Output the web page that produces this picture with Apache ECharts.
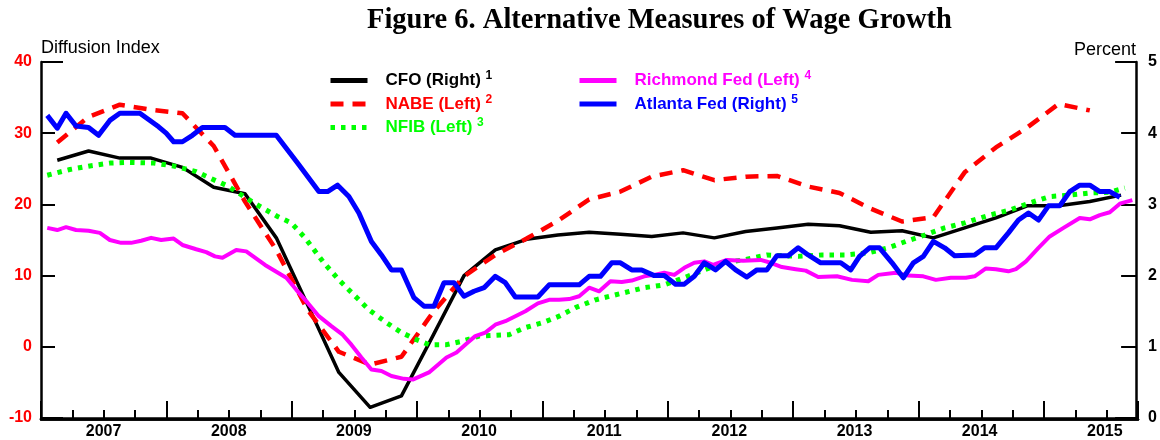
<!DOCTYPE html>
<html>
<head>
<meta charset="utf-8">
<script src="https://cdn.jsdelivr.net/npm/echarts@6/dist/echarts.min.js"></script>
<style>
  html, body { margin: 0; padding: 0; background: #fff; }
  #chart { width: 1160px; height: 440px; }
</style>
</head>
<body>
<div id="chart"></div>
<script>
// CFO survey, quarterly, percent (right axis)
const cfoDates = [2007.13, 2007.38, 2007.63, 2007.88, 2008.13, 2008.38, 2008.63, 2008.88, 2009.13, 2009.38, 2009.63, 2009.88,
  2010.13, 2010.38, 2010.63, 2010.88, 2011.13, 2011.38, 2011.63, 2011.88, 2012.13, 2012.38, 2012.63, 2012.88,
  2013.13, 2013.38, 2013.63, 2013.88, 2014.13, 2014.38, 2014.63, 2014.88, 2015.13, 2015.38, 2015.63]
const cfoValues = [3.62, 3.75, 3.65, 3.65, 3.52, 3.24, 3.15, 2.53, 1.59, 0.64, 0.15, 0.31,
  1.15, 2.00, 2.36, 2.51, 2.57, 2.61, 2.58, 2.55, 2.60, 2.53, 2.62, 2.67,
  2.72, 2.70, 2.61, 2.63, 2.53, 2.67, 2.81, 2.98, 2.98, 3.04, 3.13]

// NABE, diffusion index (left axis)
const nabeDates = [2007.13, 2007.38, 2007.63, 2007.88, 2008.13, 2008.38, 2008.63, 2008.88, 2009.13, 2009.38, 2009.63, 2009.88,
  2010.13, 2010.38, 2010.63, 2010.88, 2011.13, 2011.38, 2011.63, 2011.88, 2012.13, 2012.38, 2012.63, 2012.88,
  2013.13, 2013.38, 2013.63, 2013.88, 2014.13, 2014.38, 2014.63, 2014.88, 2015.13, 2015.38]
const nabeValues = [28.7, 32.3, 34.0, 33.3, 32.8, 28.2, 20.4, 13.6, 5.2, -0.7, -2.5, -1.4,
  4.8, 9.9, 12.9, 15.2, 17.7, 20.7, 21.8, 23.9, 24.8, 23.4, 23.9, 24.0,
  22.5, 21.6, 19.4, 17.6, 18.2, 24.5, 28.0, 30.8, 34.1, 33.2]

// NFIB, diffusion index (left axis)
const nfibDates = [2007.05, 2007.23, 2007.39, 2007.55, 2007.71, 2007.90, 2008.06, 2008.24, 2008.40, 2008.49, 2008.71, 2008.89,
  2009.00, 2009.11, 2009.26, 2009.38, 2009.50, 2009.62, 2009.76, 2009.88, 2010.00, 2010.10, 2010.24, 2010.37, 2010.50,
  2010.74, 2010.87, 2011.01, 2011.14, 2011.27, 2011.43, 2011.66, 2011.82, 2011.98, 2012.14, 2012.30, 2012.45, 2012.61,
  2012.80, 2013.05, 2013.24, 2013.43, 2013.61, 2013.77, 2013.91, 2014.03, 2014.22, 2014.38, 2014.45, 2014.58, 2014.74,
  2014.90, 2015.06, 2015.22, 2015.38, 2015.54, 2015.66]
const nfibValues = [24.1, 24.9, 25.4, 25.8, 25.9, 25.8, 25.4, 24.6, 23.3, 22.6, 20.1, 18.3,
  17.4, 15.3, 11.8, 9.4, 7.3, 5.2, 3.4, 2.0, 1.0, 0.3, 0.3, 0.8, 1.5,
  1.7, 2.7, 3.4, 4.3, 5.5, 6.6, 7.6, 8.3, 8.7, 9.7, 10.8, 11.8, 12.2,
  12.9, 12.7, 12.9, 12.9, 13.2, 13.9, 14.8, 15.5, 16.7, 17.4, 17.8, 18.5, 19.2,
  20.2, 21.1, 21.3, 21.6, 21.7, 22.3]

// Richmond Fed, diffusion index (left axis)
const richDates = [2007.05, 2007.13, 2007.20, 2007.28, 2007.38, 2007.47, 2007.55, 2007.64, 2007.72, 2007.80, 2007.88, 2007.96,
  2008.06, 2008.13, 2008.24, 2008.32, 2008.39, 2008.45, 2008.56, 2008.64, 2008.79, 2008.96,
  2009.04, 2009.13, 2009.22, 2009.32, 2009.41, 2009.48, 2009.56, 2009.64, 2009.72, 2009.80, 2009.90, 2009.97,
  2010.10, 2010.24, 2010.32, 2010.41, 2010.47, 2010.55, 2010.63, 2010.71, 2010.79, 2010.87, 2010.97,
  2011.06, 2011.14, 2011.22, 2011.30, 2011.38, 2011.46, 2011.55, 2011.64, 2011.72, 2011.82, 2011.90, 2011.98,
  2012.06, 2012.14, 2012.22, 2012.30, 2012.37, 2012.48, 2012.61, 2012.75, 2012.83, 2012.92,
  2013.03, 2013.11, 2013.21, 2013.36, 2013.48, 2013.61, 2013.69, 2013.83, 2013.93,
  2014.05, 2014.15, 2014.27, 2014.39, 2014.46, 2014.55, 2014.63, 2014.73, 2014.79, 2014.87, 2014.97,
  2015.06, 2015.17, 2015.30, 2015.38, 2015.46, 2015.54, 2015.62, 2015.72]
const richValues = [16.7, 16.4, 16.8, 16.4, 16.3, 16.0, 15.0, 14.6, 14.6, 14.9, 15.3, 15.0,
  15.2, 14.3, 13.7, 13.3, 12.7, 12.5, 13.6, 13.4, 11.5, 9.7,
  8.0, 6.2, 4.3, 2.9, 1.7, 0.3, -1.5, -3.2, -3.4, -4.1, -4.5, -4.6,
  -3.6, -1.5, -0.8, 0.6, 1.5, 2.0, 3.1, 3.6, 4.3, 5.0, 6.1,
  6.6, 6.6, 6.7, 7.1, 8.3, 7.8, 9.2, 9.1, 9.3, 9.9, 10.1, 10.4,
  10.1, 11.1, 11.8, 12.0, 11.5, 12.2, 12.1, 12.2, 11.8, 11.2,
  10.9, 10.7, 9.8, 9.9, 9.4, 9.2, 10.1, 10.4, 10.0,
  9.9, 9.4, 9.7, 9.7, 9.9, 11.0, 10.9, 10.6, 10.9, 12.0, 13.9,
  15.5, 16.7, 18.1, 17.9, 18.5, 18.9, 20.1, 20.6]

// Atlanta Fed wage tracker, percent (right axis)
const atlDates = [2007.05, 2007.13, 2007.20, 2007.28, 2007.38, 2007.46, 2007.55, 2007.63, 2007.79, 2007.94,
  2008.00, 2008.06, 2008.13, 2008.21, 2008.29, 2008.47, 2008.55, 2008.88,
  2009.05, 2009.22, 2009.29, 2009.37, 2009.46, 2009.54, 2009.64, 2009.72, 2009.80, 2009.88, 2009.98,
  2010.06, 2010.14, 2010.22, 2010.30, 2010.38, 2010.46, 2010.54, 2010.63, 2010.71, 2010.79, 2010.97,
  2011.06, 2011.30, 2011.38, 2011.47, 2011.56, 2011.63, 2011.72, 2011.80, 2011.90, 2011.98,
  2012.07, 2012.14, 2012.22, 2012.30, 2012.39, 2012.47, 2012.55, 2012.64, 2012.72, 2012.80, 2012.88, 2012.97,
  2013.05, 2013.13, 2013.23, 2013.39, 2013.47, 2013.54, 2013.62, 2013.70, 2013.80, 2013.89, 2013.97,
  2014.05, 2014.13, 2014.22, 2014.30, 2014.46, 2014.54, 2014.63, 2014.73, 2014.81, 2014.89, 2014.97,
  2015.05, 2015.14, 2015.22, 2015.30, 2015.38, 2015.46, 2015.54, 2015.62]
const atlValues = [4.25, 4.07, 4.28, 4.10, 4.08, 3.97, 4.18, 4.28, 4.28, 4.09,
  4.00, 3.88, 3.88, 3.97, 4.08, 4.08, 3.97, 3.97,
  3.58, 3.18, 3.18, 3.27, 3.11, 2.88, 2.48, 2.29, 2.08, 2.08, 1.69,
  1.57, 1.57, 1.90, 1.90, 1.71, 1.78, 1.83, 1.99, 1.90, 1.70, 1.70,
  1.87, 1.87, 1.99, 1.99, 2.18, 2.18, 2.08, 2.08, 2.00, 2.00,
  1.88, 1.88, 1.99, 2.18, 2.08, 2.20, 2.08, 1.98, 2.08, 2.08, 2.28, 2.28,
  2.39, 2.29, 2.18, 2.18, 2.08, 2.27, 2.39, 2.39, 2.18, 1.97, 2.18,
  2.27, 2.48, 2.39, 2.28, 2.29, 2.39, 2.39, 2.60, 2.78, 2.88, 2.78,
  2.98, 2.98, 3.18, 3.27, 3.27, 3.18, 3.18, 3.10]

const leftTicks = [-10, 0, 10, 20, 30, 40]
const rightTicks = [0, 1, 2, 3, 4, 5]
const yearLabels = ['2007', '2008', '2009', '2010', '2011', '2012', '2013', '2014', '2015']

const FONT = 'Liberation Sans, Arial, sans-serif'

const seriesConfigs = [
  { key: 'cfo', name: 'CFO (Right)', sup: '1', color: '#000000', axis: 1, width: 3.5, type: 'solid', dates: cfoDates, values: cfoValues },
  { key: 'nabe', name: 'NABE (Left)', sup: '2', color: '#FF0000', axis: 0, width: 4.5, type: [13, 9], dates: nabeDates, values: nabeValues },
  { key: 'nfib', name: 'NFIB (Left)', sup: '3', color: '#00FF00', axis: 0, width: 5, type: [4.5, 6], dates: nfibDates, values: nfibValues },
  { key: 'rich', name: 'Richmond Fed (Left)', sup: '4', color: '#FF00FF', axis: 0, width: 4, type: 'solid', dates: richDates, values: richValues },
  { key: 'atl', name: 'Atlanta Fed (Right)', sup: '5', color: '#0000FF', axis: 1, width: 5, type: 'solid', dates: atlDates, values: atlValues }
]

const rich = {}
seriesConfigs.forEach(c => {
  rich[c.key] = { color: c.color, fontSize: 17, fontWeight: 'bold', fontFamily: FONT }
  rich[c.key + 'S'] = { color: c.color, fontSize: 12, fontWeight: 'bold', fontFamily: FONT, padding: [0, 0, 9, 0] }
})
const byName = {}
seriesConfigs.forEach(c => { byName[c.name] = c })

const legendBase = {
  orient: 'vertical',
  itemWidth: 37,
  itemHeight: 14,
  itemGap: 4.5,
  padding: 0,
  selectedMode: false,
  itemStyle: { opacity: 0 },
  lineStyle: { width: 5 },
  formatter: name => `{${byName[name].key}|${name}} {${byName[name].key}S|${byName[name].sup}}`,
  textStyle: { fontFamily: FONT, fontSize: 17, fontWeight: 'bold', padding: [0, 0, 0, 13], rich: rich }
}

const chart = echarts.init(document.getElementById('chart'), null, { renderer: 'canvas' })

const gridBox = { left: 41, right: 22, top: 62, bottom: 21, containLabel: false }

// tick-only x axes, each in its own overlaid grid so both sit on the bottom edge
const tickAxis = (gridIndex, interval, length) => ({
  type: 'value',
  gridIndex: gridIndex,
  min: 2007,
  max: 2015.75,
  interval: interval,
  position: 'bottom',
  axisLine: { show: true, onZero: false, lineStyle: { color: '#000', width: 2.5 } },
  axisLabel: { show: false },
  splitLine: { show: false },
  axisTick: { show: true, inside: true, length: length, lineStyle: { color: '#000', width: 2 } }
})
const hiddenY = gridIndex => ({ type: 'value', gridIndex: gridIndex, min: 0, max: 1, show: false })

const option = {
  animation: false,
  backgroundColor: '#ffffff',
  title: {
    text: 'Figure 6. Alternative Measures of Wage Growth',
    left: 367,
    top: 6,
    padding: 0,
    textStyle: { fontFamily: 'Liberation Serif, Times New Roman, serif', fontWeight: 'bold', fontSize: 28.5, color: '#000' }
  },
  legend: [
    Object.assign({}, legendBase, { left: 328, top: 70, data: seriesConfigs.slice(0, 3).map(c => c.name) }),
    Object.assign({}, legendBase, { left: 577, top: 70, data: seriesConfigs.slice(3).map(c => c.name) })
  ],
  grid: [gridBox, Object.assign({}, gridBox), Object.assign({}, gridBox)],
  xAxis: [
    {
      type: 'value',
      gridIndex: 0,
      min: 2007,
      max: 2015.75,
      interval: 0.5,
      position: 'bottom',
      axisLine: { show: true, onZero: false, lineStyle: { color: '#000', width: 2.5 } },
      axisTick: { show: false },
      splitLine: { show: false },
      axisLabel: {
        margin: 6,
        fontFamily: FONT,
        fontSize: 16,
        fontWeight: 'bold',
        color: '#000',
        formatter: v => {
          const i = Math.round((v - 2007.5) * 2)
          return (i >= 0 && i % 2 === 0) ? yearLabels[i / 2] : ''
        }
      }
    },
    tickAxis(1, 0.25, 9),
    tickAxis(2, 1, 18)
  ],
  yAxis: [
    {
      type: 'value',
      gridIndex: 0,
      position: 'left',
      min: leftTicks[0],
      max: leftTicks[leftTicks.length - 1],
      interval: 10,
      name: 'Diffusion Index',
      nameLocation: 'end',
      nameGap: 14,
      nameTextStyle: { fontFamily: FONT, fontSize: 18, color: '#000', align: 'left', verticalAlign: 'middle' },
      axisLine: { show: true, onZero: false, lineStyle: { color: '#000', width: 2.5 } },
      axisTick: { show: true, inside: true, length: 14, lineStyle: { color: '#000', width: 2 } },
      axisLabel: { margin: 9, fontFamily: FONT, fontSize: 16, fontWeight: 'bold', color: '#FF0000' },
      splitLine: { show: false }
    },
    {
      type: 'value',
      gridIndex: 0,
      position: 'right',
      min: rightTicks[0],
      max: rightTicks[rightTicks.length - 1],
      interval: 1,
      name: 'Percent',
      nameLocation: 'end',
      nameGap: 12,
      nameTextStyle: { fontFamily: FONT, fontSize: 18, color: '#000', align: 'right', verticalAlign: 'middle' },
      axisLine: { show: true, onZero: false, lineStyle: { color: '#000', width: 2.5 } },
      axisTick: { show: true, inside: true, length: 15, lineStyle: { color: '#000', width: 2 } },
      axisLabel: { margin: 12, fontFamily: FONT, fontSize: 16, fontWeight: 'bold', color: '#000' },
      splitLine: { show: false }
    },
    {
      type: 'value', gridIndex: 0, position: 'left', min: -10, max: 40, interval: 50,
      axisLine: { show: false, onZero: false }, axisLabel: { show: false }, splitLine: { show: false },
      axisTick: { show: true, inside: true, length: 22, lineStyle: { color: '#000', width: 2 } }
    },
    {
      type: 'value', gridIndex: 0, position: 'right', min: 0, max: 5, interval: 5,
      axisLine: { show: false, onZero: false }, axisLabel: { show: false }, splitLine: { show: false },
      axisTick: { show: true, inside: true, length: 21, lineStyle: { color: '#000', width: 2 } }
    },
    hiddenY(1),
    hiddenY(2)
  ],
  series: seriesConfigs.map(c => ({
    name: c.name,
    type: 'line',
    xAxisIndex: 0,
    yAxisIndex: c.axis,
    data: c.dates.map((d, i) => [d, c.values[i]]),
    symbol: 'none',
    smooth: false,
    silent: true,
    itemStyle: { color: c.color },
    lineStyle: { color: c.color, width: c.width, type: c.type, cap: 'butt', join: 'round' }
  }))
}

chart.setOption(option)
</script>
</body>
</html>
